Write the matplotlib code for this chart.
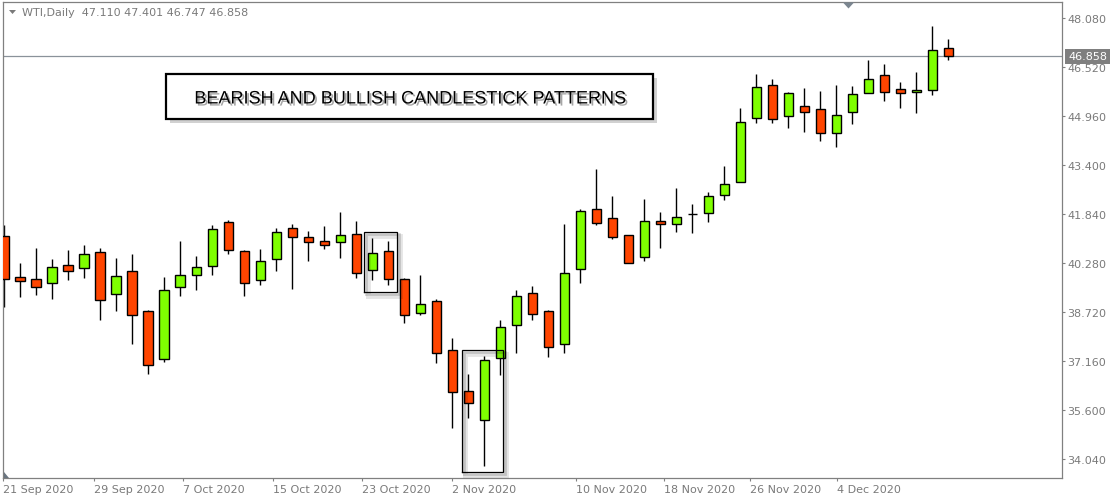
import matplotlib
matplotlib.use("Agg")
import matplotlib.pyplot as plt
import matplotlib.patheffects as pe
from matplotlib.patches import Rectangle, Polygon
from matplotlib.lines import Line2D
from matplotlib.transforms import blended_transform_factory

# ---------------- data ----------------
opens = [41.13, 39.82, 39.76, 39.63, 40.21, 40.11, 40.62, 39.28, 40.02, 38.74,
         37.21, 39.51, 39.89, 40.18, 41.58, 40.65, 39.73, 40.40, 41.38, 41.10,
         40.97, 40.94, 41.19, 40.05, 40.65, 39.76, 38.68, 39.06, 37.50, 36.20,
         35.27, 37.25, 38.30, 39.32, 38.74, 37.69, 40.08, 41.99, 41.70, 41.16,
         40.46, 41.61, 41.51, 41.83, 41.86, 42.44, 42.85, 44.89, 45.94, 44.95,
         45.27, 45.17, 44.41, 45.08, 45.68, 46.26, 45.81, 45.72, 45.78, 47.110]
highs = [41.49, 40.28, 40.76, 40.41, 40.69, 40.85, 40.75, 40.44, 40.57, 38.78,
         39.83, 40.98, 40.50, 41.49, 41.65, 40.69, 40.73, 41.39, 41.52, 41.30,
         41.46, 41.89, 41.62, 41.08, 40.98, 39.79, 39.89, 39.12, 37.88, 36.75,
         37.31, 38.46, 39.41, 39.54, 38.77, 41.52, 42.00, 43.27, 42.41, 41.16,
         42.32, 41.90, 42.67, 42.16, 42.54, 43.37, 45.22, 46.30, 46.14, 45.72,
         45.85, 45.76, 45.95, 45.92, 46.74, 46.62, 46.04, 46.36, 47.83, 47.401]
lows = [38.87, 39.21, 39.27, 39.14, 39.75, 39.81, 38.47, 38.76, 37.71, 36.76,
        37.14, 39.24, 39.43, 39.91, 40.58, 39.24, 39.59, 40.03, 39.46, 40.33,
        40.73, 40.45, 39.81, 39.75, 39.59, 38.36, 38.61, 37.09, 35.04, 35.36,
        33.81, 36.72, 37.41, 38.46, 37.28, 37.41, 39.63, 41.50, 41.05, 40.27,
        40.35, 40.77, 41.28, 41.24, 41.60, 42.30, 42.85, 44.75, 44.75, 44.59,
        44.46, 44.17, 43.98, 44.72, 45.68, 45.45, 45.22, 45.07, 45.64, 46.747]
closes = [39.76, 39.70, 39.53, 40.14, 40.02, 40.56, 39.09, 39.86, 38.61, 37.02,
          39.41, 39.89, 40.14, 41.35, 40.68, 39.63, 40.33, 41.26, 41.10, 40.94,
          40.84, 41.16, 39.95, 40.59, 39.76, 38.61, 38.97, 37.41, 36.16, 35.81,
          37.18, 38.23, 39.22, 38.65, 37.60, 39.95, 41.93, 41.54, 41.10, 40.27,
          41.61, 41.51, 41.73, 41.83, 42.40, 42.79, 44.76, 45.87, 44.86, 45.68,
          45.08, 44.41, 44.98, 45.65, 46.13, 45.72, 45.68, 45.79, 47.05, 46.858]

price_ticks = [48.080, 46.520, 44.960, 43.400, 41.840, 40.280, 38.720, 37.160, 35.600, 34.040]
date_labels = ["21 Sep 2020", "29 Sep 2020", "7 Oct 2020", "15 Oct 2020", "23 Oct 2020",
               "2 Nov 2020", "10 Nov 2020", "18 Nov 2020", "26 Nov 2020", "4 Dec 2020"]
date_label_pos = [-0.08, 5.61, 11.17, 16.79, 22.36, 27.98, 35.73, 41.23, 46.61, 52.05]
current_price = 46.858
header = "WTI,Daily  47.110 47.401 46.747 46.858"
title = "BEARISH AND BULLISH CANDLESTICK PATTERNS"
# pattern boxes: (x_start, x_end, price_low, price_high) in bar / price units
pattern_boxes = [(22.50, 24.52, 39.35, 41.26), (28.59, 31.15, 33.62, 37.50)]

# ---------------- style ----------------
W, H = 1117, 502
UP = "#7FFF00"
DOWN = "#FF4500"
GREY = "#808080"
TXT = "#7a7a7a"

fig = plt.figure(figsize=(W / 100, H / 100), dpi=100)
fig.patch.set_facecolor("white")
L, R, T, B = 3, 1062, 3, 479
ax = fig.add_axes([L / W, (H - B) / H, (R - L) / W, (B - T) / H])
ax.set_facecolor("white")

body_w = 0.6
for i, (o, h, l, c) in enumerate(zip(opens, highs, lows, closes)):
    ax.vlines(i, l, h, color="black", lw=1.0, zorder=2)
    col = UP if c >= o else DOWN
    ax.add_patch(Rectangle((i - body_w / 2, min(o, c)), body_w, abs(c - o),
                           facecolor=col, edgecolor="black", lw=1.0, zorder=3))

ax.set_xlim(-0.08, 66.1)
ax.set_ylim(33.435, 48.59)

# current price line
ax.axhline(current_price, color="#8a929a", lw=0.9, zorder=1)

# pattern boxes with soft shadow
for (x0, x1, y0, y1) in pattern_boxes:
    ln = Line2D([x0, x1, x1, x0, x0], [y0, y0, y1, y1, y0], color="black", lw=0.9,
                zorder=5, solid_joinstyle="miter",
                path_effects=[pe.SimpleLineShadow(offset=(2.5, -2.5), shadow_color="black", alpha=0.10, linewidth=3.5),
                              pe.SimpleLineShadow(offset=(1.5, -1.5), shadow_color="black", alpha=0.15, linewidth=2),
                              pe.Normal()])
    ax.add_line(ln)

# axes styling
for s in ax.spines.values():
    s.set_color(GREY)
    s.set_linewidth(0.9)
ax.yaxis.tick_right()
ax.set_yticks(price_ticks)
ax.set_yticklabels([f"{p:.3f}" for p in price_ticks])
ax.set_xticks(date_label_pos)
ax.set_xticklabels(date_labels)
for lab in ax.get_xticklabels():
    lab.set_horizontalalignment("left")
ax.tick_params(axis="both", colors=GREY, labelcolor=TXT, labelsize=8, length=2.5, width=0.8, direction="out")
ax.tick_params(axis="y", pad=1.5)
ax.tick_params(axis="x", pad=2)
ax.grid(False)

# current price label on the axis
tr = blended_transform_factory(ax.transAxes, ax.transData)
ax.text(1.0 + 6 / (R - L), current_price, f"{current_price:.3f}", transform=tr,
        color="white", fontsize=8, va="center", ha="left", zorder=10, clip_on=False,
        bbox=dict(boxstyle="square,pad=0.25", facecolor="#7f7f7f", edgecolor="none"))

# title box
bx0, bx1, by0, by1 = 165.7, 653, 75, 120
rect = Rectangle(((bx0 - L) / (R - L), (B - by1) / (B - T)), (bx1 - bx0) / (R - L), (by1 - by0) / (B - T),
                 transform=ax.transAxes, facecolor="white", edgecolor="black", lw=1.6, zorder=6,
                 path_effects=[pe.SimplePatchShadow(offset=(3, -3), shadow_rgbFace="black", alpha=0.18),
                               pe.Normal()])
ax.add_patch(rect)
ax.text(((bx0 + bx1) / 2 - L) / (R - L), (B - 100) / (B - T), title, transform=ax.transAxes,
        ha="center", va="center", fontsize=13, family="Liberation Sans", color="black", zorder=7,
        path_effects=[pe.withSimplePatchShadow(offset=(1.5, -1.5), shadow_rgbFace="black", alpha=0.35)])


def px(x, y):
    return (x / W, 1 - y / H)


# header
fig.text(*px(22, 13.5), header, color=TXT, fontsize=8, va="center", ha="left")
fig.patches.append(Polygon([px(9, 11), px(16, 11), px(12.5, 15)], closed=True,
                           transform=fig.transFigure, facecolor="#7a7a7a", edgecolor="none"))
# shift marker at top
fig.patches.append(Polygon([px(843, 3.5), px(854, 3.5), px(848.5, 9.5)], closed=True,
                           transform=fig.transFigure, facecolor="#7b8690", edgecolor="none"))
# corner marker at bottom-left
fig.patches.append(Polygon([px(3.5, 472.5), px(3.5, 479), px(9.5, 479)], closed=True,
                           transform=fig.transFigure, facecolor="#6a7580", edgecolor="none"))

fig.savefig("out.png", dpi=100, facecolor="white")
